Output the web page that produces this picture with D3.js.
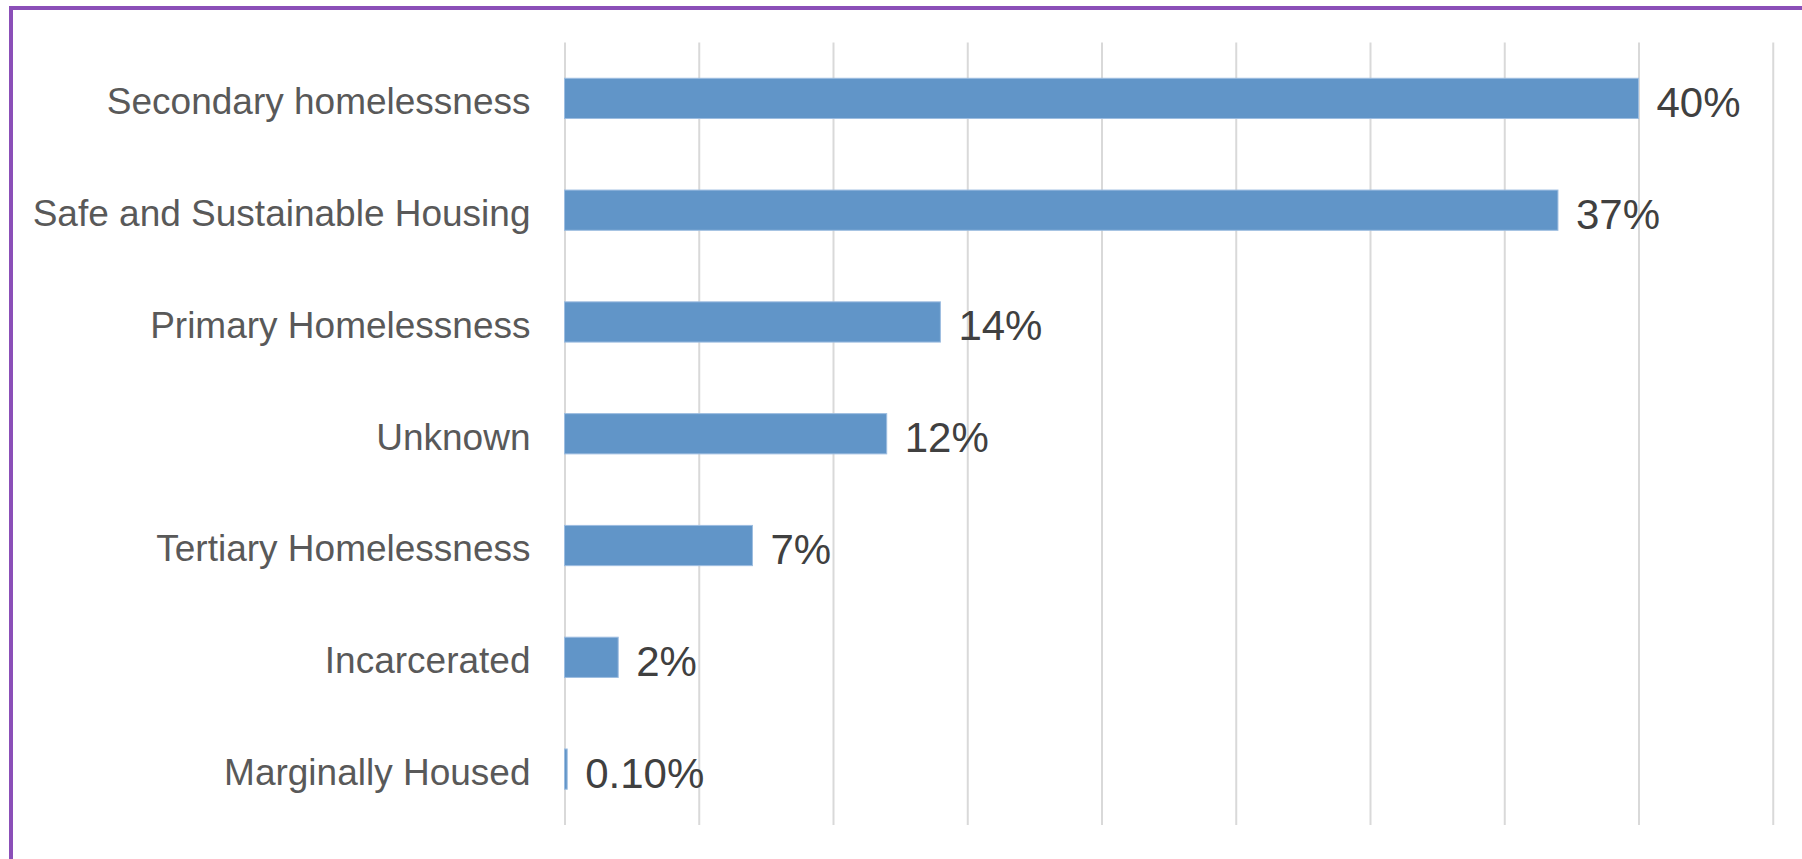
<!DOCTYPE html>
<html>
<head>
<meta charset="utf-8">
<script src="https://cdn.jsdelivr.net/npm/d3@7"></script>
<style>
  body { margin: 0; background: #fff; }
  svg { display: block; font-family: "Liberation Sans", Arial, sans-serif; }
  .grid line { stroke: #d9d9d9; stroke-width: 2; }
  .cat text { fill: #595959; font-size: 37px; }
  .val { fill: #404040; font-size: 42px; }
</style>
</head>
<body>
<div id="chart"></div>
<script>
// data
const categories = [
  "Secondary homelessness",
  "Safe and Sustainable Housing",
  "Primary Homelessness",
  "Unknown",
  "Tertiary Homelessness",
  "Incarcerated",
  "Marginally Housed"
];
const values = [40, 37, 14, 12, 7, 2, 0.1];
const valueLabels = ["40%", "37%", "14%", "12%", "7%", "2%", "0.10%"];
const gridTicks = [0, 5, 10, 15, 20, 25, 30, 35, 40, 45];

// chart setup
const svgWidth = 1802;
const svgHeight = 859;
const plot = { left: 564.5, right: 1772.75, top: 42.5, bottom: 825 };

const svg = d3.select("#chart")
  .append("svg")
  .attr("width", svgWidth)
  .attr("height", svgHeight);

// purple frame (top and left edges only visible)
svg.append("path")
  .attr("d", `M11,${svgHeight} L11,8 L${svgWidth},8`)
  .attr("fill", "none")
  .attr("stroke", "#8b4fb8")
  .attr("stroke-width", 4);

const xScale = d3.scaleLinear()
  .domain([0, 45])
  .range([plot.left, plot.right]);

const yScale = d3.scaleBand()
  .domain(categories)
  .range([plot.top, plot.bottom])
  .paddingInner(0.64)
  .paddingOuter(0.32);

// vertical gridlines
svg.append("g")
  .attr("class", "grid")
  .attr("transform", `translate(0, ${plot.bottom})`)
  .call(d3.axisBottom(xScale)
    .tickValues(gridTicks)
    .tickSize(-(plot.bottom - plot.top))
    .tickFormat(""))
  .call(g => g.select(".domain").remove());

// category labels
svg.append("g")
  .attr("class", "cat")
  .attr("transform", `translate(${plot.left - 34}, 0)`)
  .call(d3.axisLeft(yScale).tickSize(0).tickPadding(0))
  .call(g => g.select(".domain").remove())
  .call(g => g.selectAll("text")
    .attr("font-size", null)
    .attr("font-family", null)
    .attr("dy", "0.43em"));

// bars
const rows = categories.map((c, i) => ({ cat: c, value: values[i], label: valueLabels[i] }));

svg.selectAll("rect.bar")
  .data(rows)
  .enter()
  .append("rect")
  .attr("class", "bar")
  .attr("x", xScale(0))
  .attr("y", d => yScale(d.cat))
  .attr("width", d => Math.max(1.5, xScale(d.value) - xScale(0)))
  .attr("height", yScale.bandwidth())
  .attr("fill", "#6195c8")
  .attr("stroke", "#9dbde0")
  .attr("stroke-width", 1);

// value labels
svg.selectAll("text.val")
  .data(rows)
  .enter()
  .append("text")
  .attr("class", "val")
  .attr("x", d => xScale(d.value) + 18)
  .attr("y", d => yScale(d.cat) + yScale.bandwidth() / 2 + 18.5)
  .text(d => d.label);
</script>
</body>
</html>
